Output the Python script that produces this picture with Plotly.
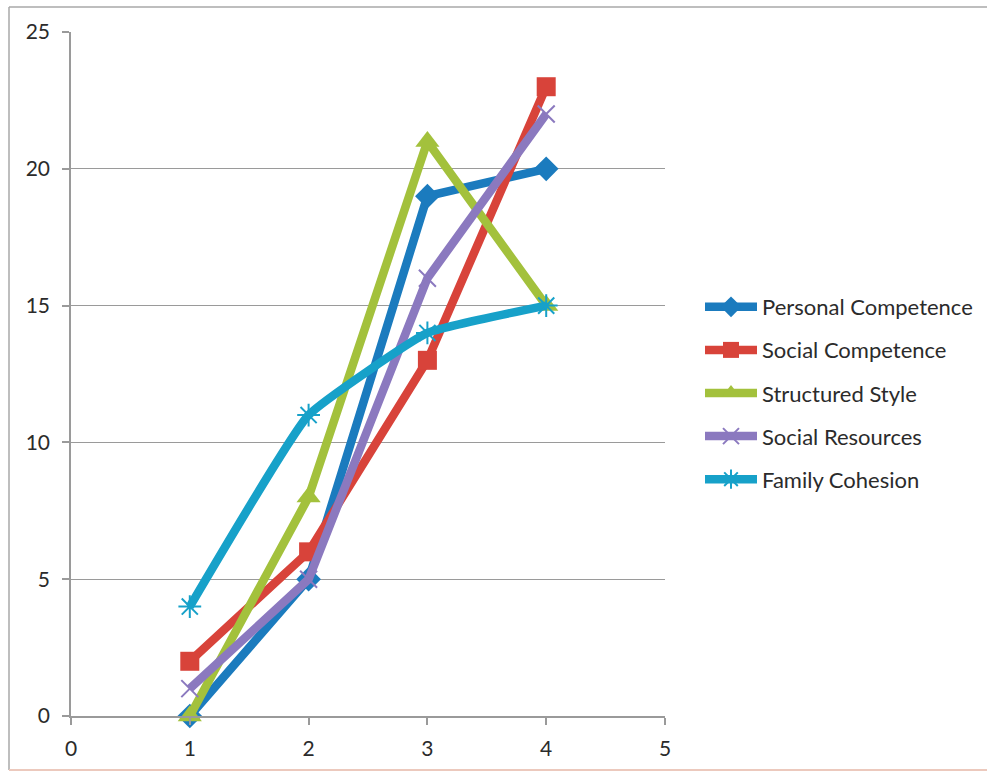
import plotly.graph_objects as go

# Scores at each of four measurement points
x_points = [1, 2, 3, 4]
personal_competence = [0, 5, 19, 20]
social_competence = [2, 6, 13, 23]
structured_style = [0, 8, 21, 15]
social_resources = [1, 5, 16, 22]
family_cohesion = [4, 11, 14, 15]

series = [
    ("Personal Competence", personal_competence, "#1B7BBE",
     dict(symbol="diamond", size=19), "linear"),
    ("Social Competence", social_competence, "#D8433A",
     dict(symbol="square", size=19), "linear"),
    ("Structured Style", structured_style, "#A3C13C",
     dict(symbol="triangle-up", size=21), "linear"),
    ("Social Resources", social_resources, "#8B79BF",
     dict(symbol="x-thin-open", size=17, line=dict(width=2)), "linear"),
    ("Family Cohesion", family_cohesion, "#17A1C9",
     dict(symbol="asterisk-open", size=19, line=dict(width=2)), "spline"),
]

fig = go.Figure()
for name, vals, color, marker, shape in series:
    marker = dict(marker, color=color)
    fig.add_trace(go.Scatter(
        x=x_points, y=vals, name=name, mode="lines+markers",
        line=dict(color=color, width=8.5, shape=shape, smoothing=0.35),
        marker=marker, legendgroup=name, cliponaxis=False,
    ))

W, H = 987, 775
L, R, T, B = 71, 665, 32, 716
pw, ph = R - L, B - T


def px(xp):
    return (xp - L) / pw


def py(yp):
    return (B - yp) / ph


font_family = "Lato, 'Open Sans', sans-serif"
text_color = "#2b2b2b"

fig.update_layout(
    width=W, height=H,
    margin=dict(l=L, r=W - R, t=T, b=H - B, autoexpand=False),
    paper_bgcolor="white", plot_bgcolor="white",
    font=dict(family=font_family, size=21, color=text_color),
    showlegend=True,
    legend=dict(
        x=px(700), y=py(286), xanchor="left", yanchor="top",
        font=dict(size=22, color=text_color),
        tracegroupgap=11.5, itemwidth=52,
        bgcolor="rgba(0,0,0,0)",
    ),
    xaxis=dict(
        range=[0, 5], tickvals=[0, 1, 2, 3, 4, 5], showgrid=False,
        zeroline=False, showline=True, linecolor="#9a9a9a", linewidth=1.5,
        ticks="outside", ticklen=7, tickcolor="#9a9a9a", tickwidth=1.5,
        ticklabelstandoff=6,
        tickfont=dict(size=21, color=text_color),
    ),
    yaxis=dict(
        range=[0, 25], tickvals=[0, 5, 10, 15, 20, 25], showgrid=True,
        gridcolor="#9a9a9a", gridwidth=1.2, zeroline=False,
        showline=True, linecolor="#9a9a9a", linewidth=1.5,
        ticks="outside", ticklen=7, tickcolor="#9a9a9a", tickwidth=1.5,
        ticklabelstandoff=8,
        tickfont=dict(size=21, color=text_color),
    ),
    shapes=[
        # chart frame edges
        dict(type="line", xref="paper", yref="paper",
             x0=px(9), x1=px(9), y0=py(770), y1=py(7),
             line=dict(color="#a8a8a8", width=1.5)),
        dict(type="line", xref="paper", yref="paper",
             x0=px(9), x1=px(995), y0=py(7), y1=py(7),
             line=dict(color="#a8a8a8", width=1.5)),
        dict(type="line", xref="paper", yref="paper",
             x0=px(9), x1=px(995), y0=py(770), y1=py(770),
             line=dict(color="#ecc9bd", width=2)),
    ],
)

fig.write_html("out.html")
